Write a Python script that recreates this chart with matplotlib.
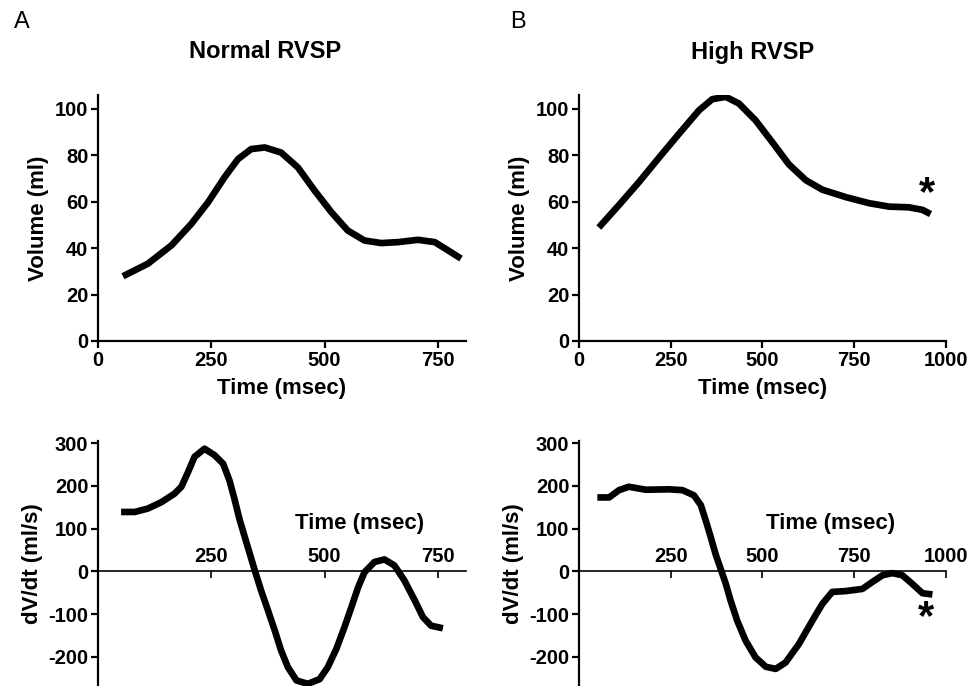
import matplotlib
matplotlib.use("Agg")
import matplotlib.pyplot as plt

plt.rcParams['font.family'] = ['Liberation Sans', 'DejaVu Sans']
plt.rcParams['axes.unicode_minus'] = False

# Normal RVSP volume
t_norm_vol = [55, 110, 162, 206, 243, 279, 309, 338, 368, 404, 441, 478, 515, 551, 588, 625, 662, 706, 743, 772, 801]
v_norm_vol = [27.9, 33.3, 41.2, 50.5, 59.8, 70.5, 78.4, 82.7, 83.4, 81.2, 74.8, 64.8, 55.5, 47.6, 43.3, 42.2, 42.6, 43.6, 42.6, 39.1, 35.5]

# High RVSP volume
t_high_vol = [54, 109, 163, 218, 272, 327, 363, 400, 436, 481, 527, 572, 618, 663, 727, 790, 845, 899, 936, 958]
v_high_vol = [48.9, 58.6, 68.4, 79.0, 89.2, 99.4, 104.2, 105.2, 102.3, 95.1, 85.6, 76.1, 69.3, 65.2, 62.0, 59.4, 57.9, 57.6, 56.5, 54.7]

# Normal RVSP dV/dt
t_norm_dv = [51, 81, 110, 140, 169, 184, 199, 213, 235, 257, 276, 290, 301, 312, 324, 335, 346, 360, 375, 390,
             404, 419, 438, 463, 489, 507, 526, 544, 559, 574, 588, 610, 632, 654, 676, 699, 717, 735, 761]
v_norm_dv = [139, 139, 147, 162, 182, 198, 233, 268, 287, 272, 252, 213, 170, 123, 80, 41, 2, -45, -91, -138,
             -185, -224, -255, -263, -252, -224, -181, -130, -84, -37, -2, 22, 28, 14, -21, -68, -107, -127, -133]

# High RVSP dV/dt
t_high_dv = [50, 82, 109, 136, 182, 245, 282, 313, 332, 345, 359, 372, 386, 400, 413, 431, 454, 481, 509, 536,
             563, 599, 636, 663, 690, 727, 772, 799, 827, 854, 881, 908, 936, 963]
v_high_dv = [173, 173, 190, 198, 191, 192, 190, 178, 155, 120, 80, 41, 6, -29, -68, -115, -162, -201, -223, -228,
             -213, -170, -115, -76, -48, -46, -41, -25, -9, -4, -9, -29, -51, -54]

norm_xticks = [0, 250, 500, 750]
high_xticks = [0, 250, 500, 750, 1000]
vol_yticks = [0, 20, 40, 60, 80, 100]
dv_yticks = [-200, -100, 0, 100, 200, 300]

W, H = 970, 686
fig = plt.figure(figsize=(W / 100, H / 100), dpi=100)

def fx(px):
    return px / W

def fy(py):
    return 1 - py / H

LW = 4.8
TICK_FS = 14.5
LAB_FS = 16

def draw(ax, t, v):
    ax.plot(t, v, color='black', lw=LW, solid_capstyle='butt', solid_joinstyle='round')

def style_vol(ax, xmax, xticks):
    for s in ['top', 'right']:
        ax.spines[s].set_visible(False)
    for s in ['left', 'bottom']:
        ax.spines[s].set_linewidth(1.6)
    ax.set_xlim(0, xmax)
    ax.set_ylim(0, 106)
    ax.set_xticks(xticks)
    ax.set_yticks(vol_yticks)
    ax.tick_params(width=1.6, length=5, labelsize=TICK_FS, pad=2)
    for lab in ax.get_xticklabels() + ax.get_yticklabels():
        lab.set_fontweight('bold')
    ax.set_xlabel('Time (msec)', fontsize=LAB_FS, fontweight='bold', labelpad=6)
    ax.set_ylabel('Volume (ml)', fontsize=LAB_FS, fontweight='bold', labelpad=4)

def style_dv(ax, xmax, xticks, lx, ly):
    ax.spines['right'].set_visible(False)
    ax.spines['bottom'].set_visible(False)
    ax.spines['top'].set_position(('data', 0))
    ax.spines['top'].set_linewidth(1.2)
    ax.spines['left'].set_linewidth(1.6)
    ax.xaxis.set_ticks_position('top')
    ax.xaxis.set_label_position('top')
    ax.set_xlim(0, xmax)
    ax.set_ylim(-268, 305)
    ax.set_xticks(xticks)
    ax.set_yticks(dv_yticks)
    ax.tick_params(axis='x', direction='in', width=1.2, length=5, labelsize=TICK_FS, pad=4)
    ax.tick_params(axis='y', width=1.6, length=5, labelsize=TICK_FS, pad=2)
    for lab in ax.get_xticklabels() + ax.get_yticklabels():
        lab.set_fontweight('bold')
    ax.set_xlabel('Time (msec)', fontsize=LAB_FS, fontweight='bold')
    ax.xaxis.set_label_coords(lx, ly)
    ax.set_ylabel('dV/dt (ml/s)', fontsize=LAB_FS, fontweight='bold', labelpad=4)

# Top-left
ax1 = fig.add_axes([fx(98), fy(341), fx(466 - 98), (341 - 95) / H])
draw(ax1, t_norm_vol, v_norm_vol)
style_vol(ax1, 812, norm_xticks)

# Top-right
ax2 = fig.add_axes([fx(579), fy(341), fx(946 - 579), (341 - 95) / H])
draw(ax2, t_high_vol, v_high_vol)
style_vol(ax2, 1000, high_xticks)
ax2.text(949, 63.5, '*', fontsize=30, fontweight='bold', ha='center', va='center')

# Bottom-left
ax3 = fig.add_axes([fx(98), 0, fx(466 - 98), (686 - 441) / H])
draw(ax3, t_norm_dv, v_norm_dv)
style_dv(ax3, 812, norm_xticks[1:], 0.71, 0.64)

# Bottom-right
ax4 = fig.add_axes([fx(579), 0, fx(946 - 579), (686 - 441) / H])
draw(ax4, t_high_dv, v_high_dv)
style_dv(ax4, 1000, high_xticks[1:], 0.685, 0.64)
ax4.text(945, -108, '*', fontsize=30, fontweight='bold', ha='center', va='center')

fig.text(fx(265), fy(52), 'Normal RVSP', fontsize=17, fontweight='bold', ha='center', va='center')
fig.text(fx(753), fy(52), 'High RVSP', fontsize=17, fontweight='bold', ha='center', va='center')
fig.text(fx(22), fy(22), 'A', fontsize=17, ha='center', va='center')
fig.text(fx(518), fy(22), 'B', fontsize=17, ha='center', va='center')

fig.savefig('out.png', dpi=100)
